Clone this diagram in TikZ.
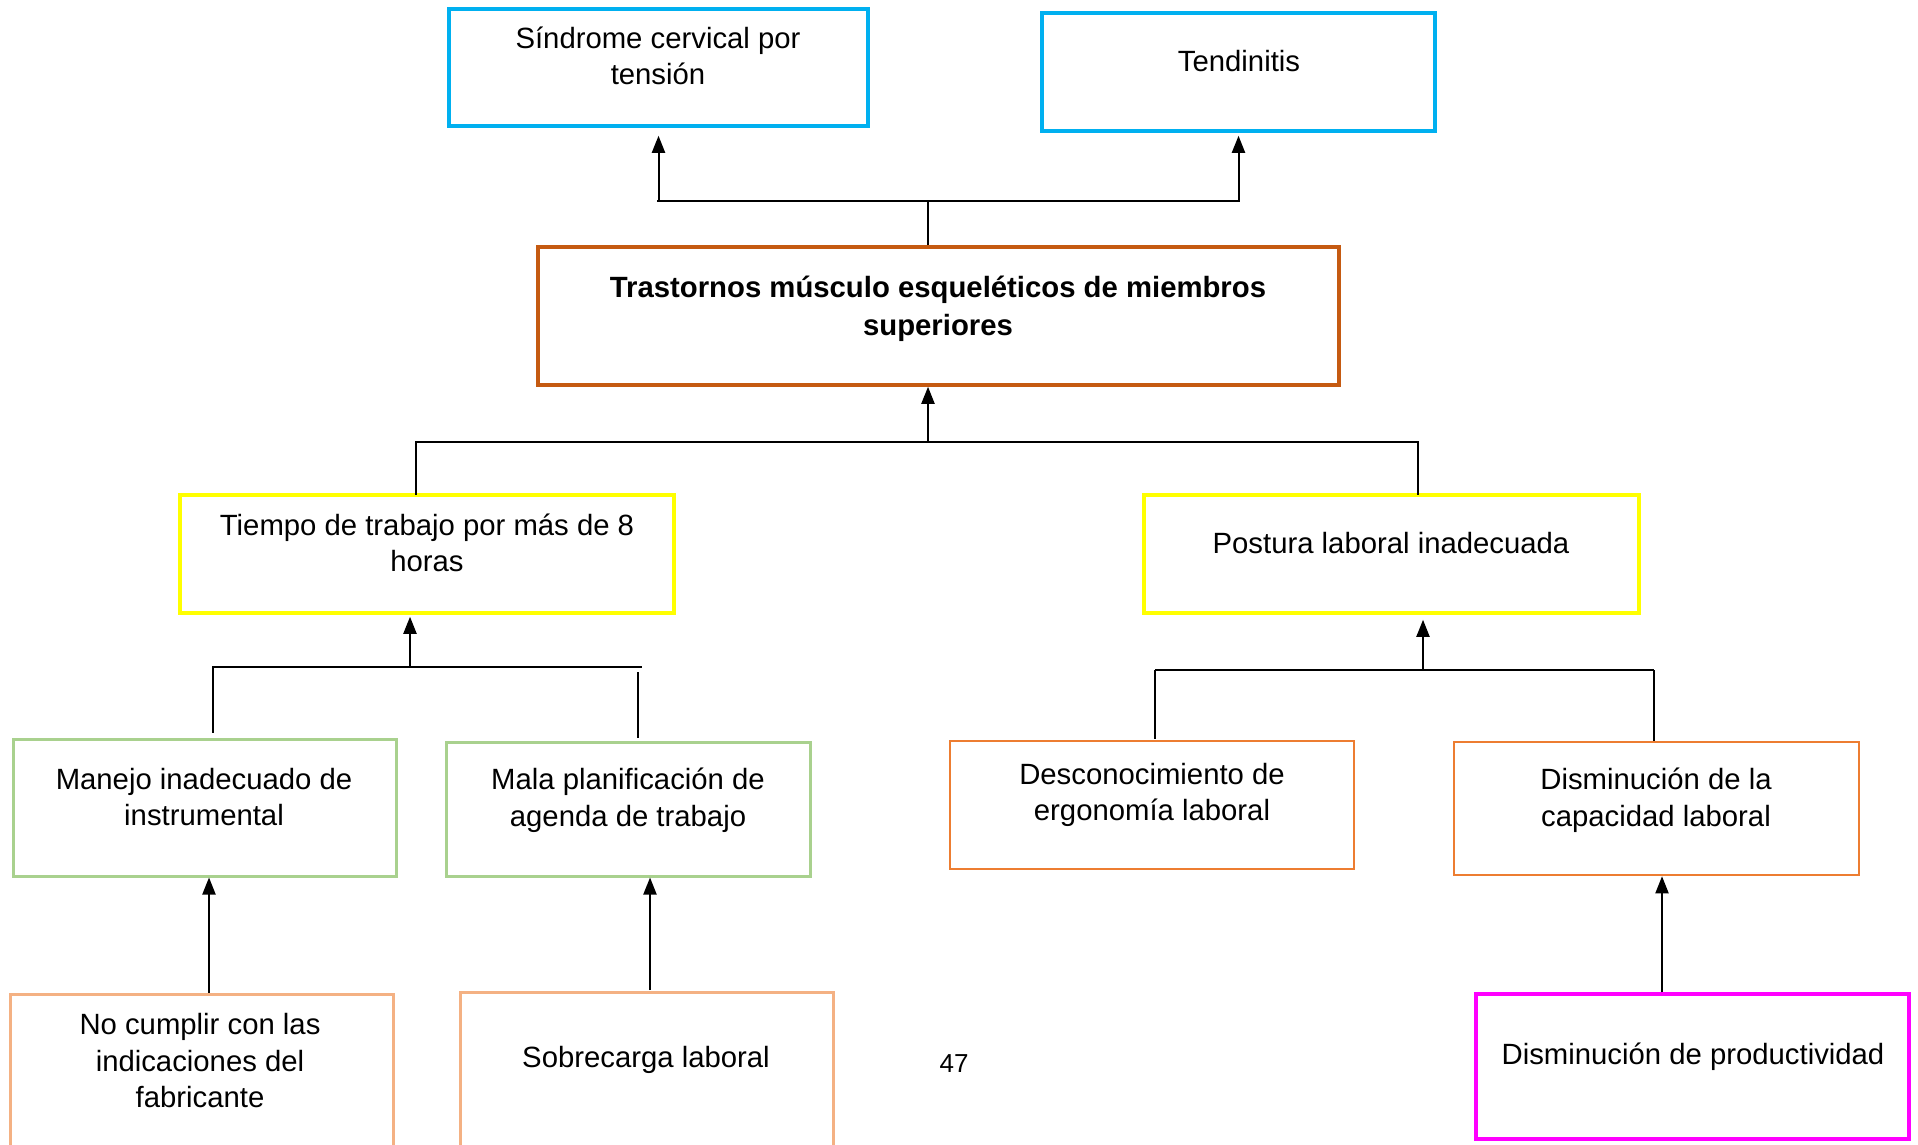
\documentclass[tikz,border=0pt]{standalone}
\usepackage{fontspec}
\setmainfont{Liberation Sans}
\usetikzlibrary{arrows.meta}
\definecolor{cblue}{HTML}{00B0F0}
\definecolor{cmain}{HTML}{C55A11}
\definecolor{cyel}{HTML}{FFFF00}
\definecolor{cgreen}{HTML}{A9D18E}
\definecolor{corange}{HTML}{ED7D31}
\definecolor{clight}{HTML}{F4B183}
\definecolor{cmag}{HTML}{FF00FF}
\tikzset{
  box/.style={rectangle, inner sep=0pt, line width=3.5pt},
  txt/.style={align=center, inner sep=0pt, font=\fontsize{29.3}{36.5}\selectfont},
  bar/.style={line width=2.2pt, line cap=rect},
  thin/.style={line width=1.3pt},
  arr/.style={line width=2pt, -{Triangle[length=17pt,width=13pt]}}
}
\begin{document}
\begin{tikzpicture}[x=1pt,y=-1pt]
\useasboundingbox (0,0) rectangle (1918,1144);
\clip (0,0) rectangle (1918,1144);
% boxes
\node[box, draw=cblue, minimum width=419pt, minimum height=117pt] (sind) at (658.5,67.5) {};
\node[box, draw=cblue, minimum width=393pt, minimum height=118pt] (tend) at (1238.5,72) {};
\node[box, draw=cmain, minimum width=801pt, minimum height=138pt] (main) at (938.5,316) {};
\node[box, draw=cyel, minimum width=494pt, minimum height=118pt] (tiempo) at (427,554) {};
\node[box, draw=cyel, minimum width=495pt, minimum height=118pt] (postura) at (1391.5,554) {};
\node[box, draw=cgreen, line width=3pt, minimum width=383pt, minimum height=137pt] (manejo) at (204.5,807.5) {};
\node[box, draw=cgreen, line width=3pt, minimum width=364pt, minimum height=134pt] (mala) at (628,809) {};
\node[box, draw=corange, line width=2.6pt, minimum width=404pt, minimum height=128pt] (desc) at (1152,805) {};
\node[box, draw=corange, line width=2.6pt, minimum width=405pt, minimum height=133pt] (dcap) at (1656.5,808.5) {};
\node[box, draw=clight, line width=3pt, minimum width=383pt, minimum height=206pt] (nocump) at (201.5,1097) {};
\node[box, draw=clight, line width=3pt, minimum width=373pt, minimum height=208pt] (sobre) at (646.5,1096) {};
\node[box, draw=cmag, minimum width=433pt, minimum height=145pt] (prod) at (1692.5,1066.5) {};
% texts
\node[txt] (tsind) at (658,56) {Síndrome cervical por\\tensión};
\node[txt] (ttend) at (1239,61) {Tendinitis};
\node[txt, font=\fontsize{29.3}{37.5}\selectfont\bfseries] (tmain) at (938,309) {Trastornos músculo esqueléticos de miembros\\superiores};
\node[txt] (ttiempo) at (427,543) {Tiempo de trabajo por más de 8\\horas};
\node[txt] (tpostura) at (1391,543) {Postura laboral inadecuada};
\node[txt] (tmanejo) at (204,797) {Manejo inadecuado de\\instrumental};
\node[txt] (tmala) at (628,800) {Mala planificación de\\agenda de trabajo};
\node[txt] (tdesc) at (1152,795) {Desconocimiento de\\ergonomía laboral};
\node[txt] (tdcap) at (1656,800) {Disminución de la\\capacidad laboral};
\node[txt] (tnocump) at (200,1061) {No cumplir con las\\indicaciones del\\fabricante};
\node[txt] (tsobre) at (646,1060) {Sobrecarga laboral};
\node[txt] (tprod) at (1693,1057) {Disminución de productividad};
\node[txt, font=\fontsize{26}{30}\selectfont] (pg) at (954,1064) {47};
% junction coordinates
\coordinate (j1) at (928,201);
\coordinate (j2) at (928,442);
\coordinate (j3) at (410,667);
\coordinate (j4) at (1423,670);
% top tree
\draw[line width=1.6pt] (main.north -| j1) -- (j1);
\draw[bar] (sind.south |- j1) -- (tend.south |- j1);
\draw[arr] (sind.south |- j1) -- ([yshift=-8pt]sind.south);
\draw[arr] (tend.south |- j1) -- ([yshift=-3pt]tend.south);
% middle tree
\draw[arr] (j2) -- (main.south -| j2);
\draw[bar] (416,442) -- (1418,442);
\draw[line width=1.8pt] (416,442) -- (416,495);
\draw[line width=1.8pt] (1418,442) -- (1418,495);
% left lower tree
\draw[arr] (j3) -- ([yshift=-2pt]tiempo.south -| j3);
\draw[bar] (213,667) -- (641,667);
\draw[thin] (213,667) -- (213,733);
\draw[thin] (638,672) -- (638,738);
% right lower tree
\draw[arr] (j4) -- ([yshift=-5pt]postura.south -| j4);
\draw[line width=1.6pt] (1155,670) -- (1654,670);
\draw[thin] (1155,670) -- (1155,739);
\draw[thin] (1654,670) -- (1654,741);
% bottom arrows
\draw[arr] (nocump.north -| 209,0) -- (manejo.south -| 209,0);
\draw[arr] (650,990) -- (mala.south -| 650,0);
\draw[arr] (prod.north -| 1662,0) -- (dcap.south -| 1662,0);
\end{tikzpicture}
\end{document}
